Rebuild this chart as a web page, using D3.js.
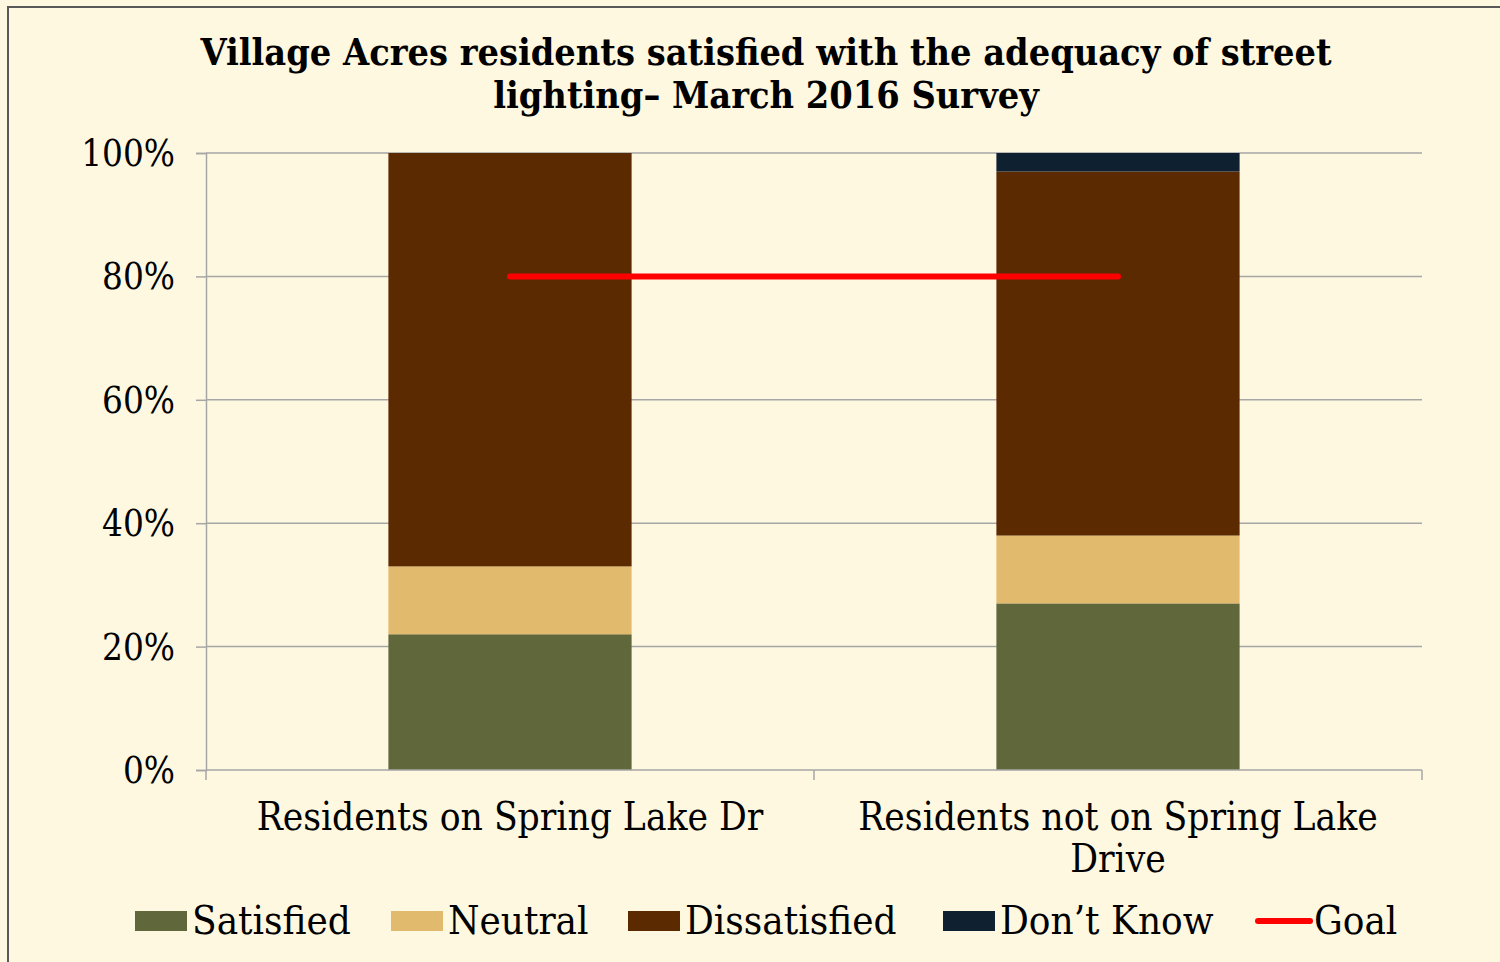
<!DOCTYPE html>
<html>
<head>
<meta charset="utf-8">
<script src="https://cdn.jsdelivr.net/npm/d3@7"></script>
<style>
  html, body { margin: 0; padding: 0; background: #fef8e1; }
  svg { display: block; }
  text { font-family: "DejaVu Serif", serif; font-stretch: condensed; fill: #000; }
</style>
</head>
<body>
<svg id="chart" width="1500" height="962"></svg>
<script>
// data
const categories = ["Residents on Spring Lake Dr", "Residents not on Spring Lake Drive"];
const categoryLines = [["Residents on Spring Lake Dr"], ["Residents not on Spring Lake", "Drive"]];
const seriesNames = ["Satisfied", "Neutral", "Dissatisfied", "Don\u2019t Know"];
const satisfied = [0.22, 0.27];
const neutral = [0.11, 0.11];
const dissatisfied = [0.67, 0.59];
const dontKnow = [0.00, 0.03];
const goal = [0.80, 0.80];
const yTicks = [0, 0.2, 0.4, 0.6, 0.8, 1.0];
const titleLines = ["Village Acres residents satisfied with the adequacy of street", "lighting\u2013 March 2016 Survey"];

const colors = ["#5f673b", "#e2ba6e", "#5c2a00", "#0f2030"];
const goalColor = "#ff0000";

const svg = d3.select("#chart");
const W = 1500, H = 962;
const m = { left: 206, right: 1422, top: 153, bottom: 770 };

// chart area border
svg.append("rect")
  .attr("x", 8).attr("y", 7)
  .attr("width", W + 20).attr("height", H + 20)
  .attr("fill", "#fef8e1")
  .attr("stroke", "#595959").attr("stroke-width", 2);

// title
svg.append("g").selectAll("text")
  .data(titleLines)
  .join("text")
    .attr("x", 766)
    .attr("y", (d, i) => 65 + i * 43)
    .attr("text-anchor", "middle")
    .attr("font-weight", "bold")
    .attr("font-size", 37.5)
    .text(d => d);

const x = d3.scaleBand()
  .domain(categories)
  .range([m.left, m.right])
  .paddingInner(0.6)
  .paddingOuter(0.3);

const y = d3.scaleLinear()
  .domain([0, 1])
  .range([m.bottom, m.top]);

// gridlines
svg.append("g").selectAll("line")
  .data(yTicks.filter(d => d > 0))
  .join("line")
    .attr("x1", m.left).attr("x2", m.right)
    .attr("y1", d => y(d)).attr("y2", d => y(d))
    .attr("stroke", "#a6a6a6").attr("stroke-width", 1.5);

// y axis
const yAxis = svg.append("g")
  .attr("transform", `translate(${m.left},0)`)
  .call(d3.axisLeft(y).tickValues(yTicks).tickFormat(d3.format(".0%")).tickSize(10).tickPadding(21));
yAxis.select(".domain").attr("stroke", "#a6a6a6").attr("stroke-width", 1.5);
yAxis.selectAll(".tick line").attr("stroke", "#a6a6a6").attr("stroke-width", 1.5);
yAxis.selectAll(".tick text").attr("font-size", 36.5).attr("font-family", null).attr("dy", "0.34em");

// stacked bars
const rows = categories.map((c, i) => ({
  category: c,
  "Satisfied": satisfied[i],
  "Neutral": neutral[i],
  "Dissatisfied": dissatisfied[i],
  "Don\u2019t Know": dontKnow[i]
}));
const stacked = d3.stack().keys(seriesNames)(rows);

svg.append("g").selectAll("g")
  .data(stacked)
  .join("g")
    .attr("fill", (d, i) => colors[i])
  .selectAll("rect")
  .data(d => d)
  .join("rect")
    .attr("x", d => x(d.data.category))
    .attr("width", x.bandwidth())
    .attr("y", d => y(d[1]))
    .attr("height", d => y(d[0]) - y(d[1]));

// x axis
const xBand = d3.scaleBand().domain(categories).range([m.left, m.right]);
const xAxisG = svg.append("g").attr("transform", `translate(0,${m.bottom})`);
xAxisG.append("line")
  .attr("x1", m.left).attr("x2", m.right)
  .attr("stroke", "#a6a6a6").attr("stroke-width", 1.5);
xAxisG.selectAll("line.tk")
  .data([m.left, ...categories.map(c => xBand(c) + xBand.bandwidth())])
  .join("line").attr("class", "tk")
    .attr("x1", d => d).attr("x2", d => d)
    .attr("y1", 0).attr("y2", 10)
    .attr("stroke", "#a6a6a6").attr("stroke-width", 1.5);
xAxisG.selectAll("text.cat")
  .data(categories)
  .join("text").attr("class", "cat")
    .attr("x", d => xBand(d) + xBand.bandwidth() / 2)
    .attr("y", 60)
    .attr("text-anchor", "middle")
    .attr("font-size", 38.5)
  .selectAll("tspan")
  .data((d, i) => categoryLines[i])
  .join("tspan")
    .attr("x", function () { return this.parentNode.getAttribute("x"); })
    .attr("dy", (d, i) => i === 0 ? 0 : 42)
    .text(d => d);

// goal line
svg.append("path")
  .datum(categories.map((c, i) => [x(c) + x.bandwidth() / 2, y(goal[i])]))
  .attr("d", d3.line())
  .attr("fill", "none")
  .attr("stroke", goalColor)
  .attr("stroke-width", 6)
  .attr("stroke-linecap", "round");

// legend
const legendItems = [
  { name: "Satisfied", x: 135, type: "box", color: colors[0] },
  { name: "Neutral", x: 391, type: "box", color: colors[1] },
  { name: "Dissatisfied", x: 628, type: "box", color: colors[2] },
  { name: "Don\u2019t Know", x: 943, type: "box", color: colors[3] },
  { name: "Goal", x: 1255, type: "line", color: goalColor }
];
const lg = svg.append("g").selectAll("g")
  .data(legendItems)
  .join("g")
    .attr("transform", d => `translate(${d.x},921)`);
lg.filter(d => d.type === "box").append("rect")
  .attr("x", 0).attr("y", -10).attr("width", 52).attr("height", 20)
  .attr("fill", d => d.color);
lg.filter(d => d.type === "line").append("line")
  .attr("x1", 3).attr("x2", 55).attr("y1", 0).attr("y2", 0)
  .attr("stroke", d => d.color).attr("stroke-width", 6).attr("stroke-linecap", "round");
lg.append("text")
  .attr("x", d => d.type === "box" ? 57 : 59)
  .attr("y", 0).attr("dy", "0.33em")
  .attr("font-size", 40)
  .text(d => d.name);
</script>
</body>
</html>
